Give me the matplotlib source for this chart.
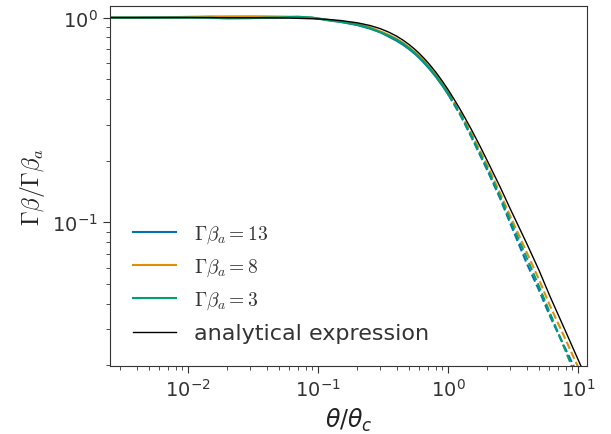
import matplotlib
matplotlib.use('Agg')
import matplotlib.pyplot as plt
from matplotlib.font_manager import FontProperties

# simulated profiles, solid part (theta/theta_c <= 1)
theta_sim = [0.0025, 0.004, 0.006, 0.01, 0.015, 0.02, 0.03, 0.04, 0.05, 0.07,
             0.09, 0.12, 0.15, 0.2, 0.25, 0.3, 0.35, 0.4, 0.45, 0.5, 0.55, 0.6,
             0.65, 0.7, 0.75, 0.8, 0.9, 1.0]
gb13 = [1.0, 1.0, 1.003, 1.008, 1.01, 1.006, 1.0, 1.002, 1.004, 1.006,
        0.998, 0.969, 0.952, 0.919, 0.883, 0.848, 0.806, 0.771, 0.736, 0.701, 0.667, 0.634,
        0.601, 0.571, 0.542, 0.515, 0.465, 0.421]
gb8 = [1.0, 1.0, 1.0, 1.004, 1.01, 1.014, 1.015, 1.014, 1.012, 1.008,
       0.998, 0.974, 0.957, 0.929, 0.897, 0.857, 0.823, 0.788, 0.752, 0.716, 0.681, 0.647,
       0.614, 0.583, 0.553, 0.526, 0.474, 0.430]
gb3 = [1.0, 1.0, 1.0, 1.0, 0.998, 0.99, 0.993, 1.0, 1.002, 1.01,
       1.0, 0.974, 0.952, 0.924, 0.888, 0.848, 0.814, 0.780, 0.744, 0.708, 0.674, 0.640,
       0.608, 0.577, 0.547, 0.520, 0.469, 0.425]

# power-law tails (dashed)
theta_tail = [1.0, 1.25, 1.5, 2.0, 2.5, 3.0, 4.0, 5.0, 6.0, 8.0, 10.0]
tail13 = [0.421, 0.33, 0.262, 0.179, 0.131, 0.0986, 0.0632, 0.0464, 0.0352, 0.0239, 0.0178]
tail8 = [0.430, 0.338, 0.273, 0.189, 0.139, 0.107, 0.0715, 0.0522, 0.0396, 0.0266, 0.0195]
tail3 = [0.425, 0.334, 0.265, 0.183, 0.134, 0.102, 0.0672, 0.0484, 0.0365, 0.0234, 0.0165]

# analytical expression
theta_an = [0.0025, 0.01, 0.03, 0.06, 0.1, 0.12, 0.15, 0.2, 0.25, 0.3, 0.35, 0.4, 0.45,
            0.5, 0.55, 0.6, 0.65, 0.7, 0.75, 0.8, 0.9, 1.0, 1.1, 1.2, 1.3, 1.5, 1.75,
            2.0, 2.5, 3.0, 4.0, 5.0, 6.0, 8.0, 10.0, 11.0]
gb_an = [1.0, 1.0, 0.9986, 0.9946, 0.985, 0.979, 0.967, 0.943, 0.915, 0.883, 0.848, 0.812, 0.775,
         0.738, 0.702, 0.667, 0.633, 0.601, 0.570, 0.542, 0.489, 0.443, 0.402, 0.367, 0.336, 0.285, 0.236,
         0.199, 0.149, 0.116, 0.079, 0.058, 0.044, 0.0292, 0.0212, 0.0185]

labels = [r'$\Gamma\beta_a = 13$', r'$\Gamma\beta_a = 8$', r'$\Gamma\beta_a = 3$']
colors = ['#0173b2', '#de8f05', '#029e73']

fig = plt.figure(figsize=(6.11, 4.35), dpi=100)
ax = fig.add_axes([0.18, 0.156, 0.781, 0.828])

for y, yt, c, lab in zip([gb13, gb8, gb3], [tail13, tail8, tail3], colors, labels):
    ax.plot(theta_sim, y, color=c, lw=1.5, label=lab)
    ax.plot(theta_tail, yt, color=c, lw=1.5, ls='--')
ax.plot(theta_an, gb_an, color='black', lw=1.0, label='analytical expression')

ax.set_xscale('log')
ax.set_yscale('log')
ax.set_xlim(2.5e-3, 11.7)
ax.set_ylim(0.0198, 1.14)

for s in ax.spines.values():
    s.set_color('#333333')
ax.tick_params(which='both', direction='out', colors='#333333', labelsize=14)
ax.tick_params(which='major', length=5)
ax.tick_params(which='minor', length=3)

ax.set_xlabel(r'$\theta/\theta_c$', fontsize=17, color='#222222')
ax.set_ylabel(r'$\Gamma\beta/\Gamma\beta_a$', fontsize=17, math_fontfamily='cm', color='#222222')

leg = ax.legend(loc='lower left', frameon=False, handlelength=2.2, labelspacing=0.6,
                borderaxespad=0.8, handletextpad=0.9,
                prop=FontProperties(size=14, math_fontfamily='cm'),
                labelcolor='#333333')
leg.get_texts()[3].set_fontsize(16)

fig.savefig('out.png', dpi=100)
